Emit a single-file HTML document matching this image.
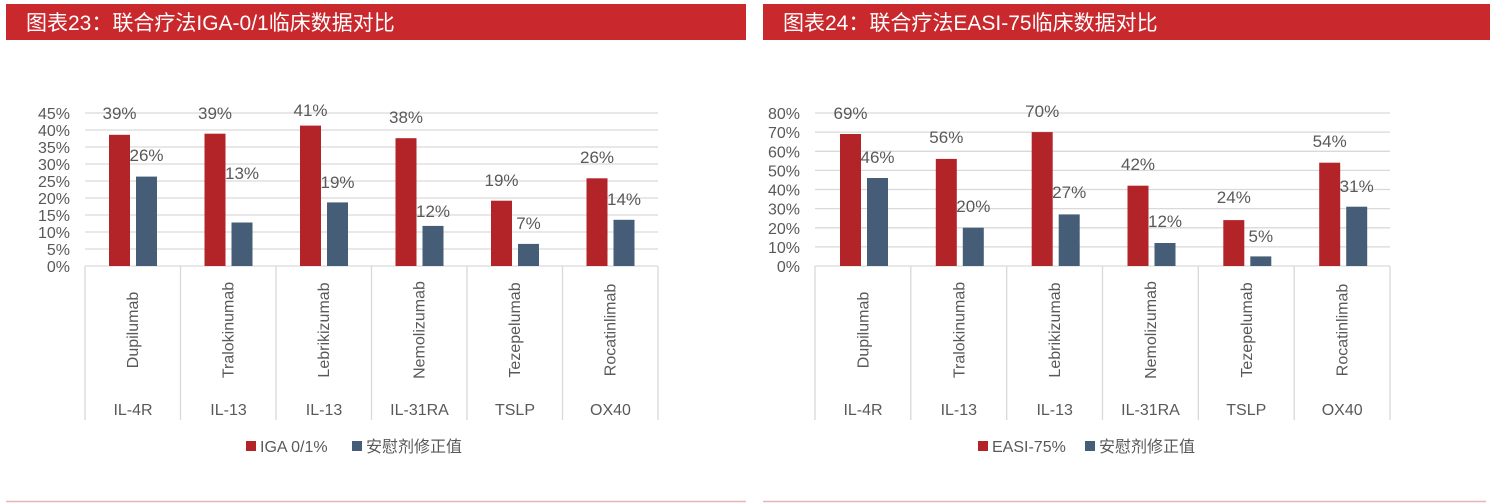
<!DOCTYPE html>
<html><head><meta charset="utf-8"><style>
html,body{margin:0;padding:0;background:#fff;width:1496px;height:504px;overflow:hidden}
svg{display:block}
text{font-family:"Liberation Sans","Noto Sans CJK SC",sans-serif;fill:#595959}
</style></head><body>
<svg width="1496" height="504" viewBox="0 0 1496 504" xmlns="http://www.w3.org/2000/svg">
<rect x="6" y="4" width="740" height="36" fill="#c9282d"/>
<rect x="763" y="4" width="727" height="36" fill="#c9282d"/>
<text x="26" y="30" font-size="21" style="fill:#fff">图表23：联合疗法IGA-0/1临床数据对比</text>
<text x="783" y="30" font-size="21" style="fill:#fff">图表24：联合疗法EASI-75临床数据对比</text>
<line x1="6" y1="501.5" x2="746" y2="501.5" stroke="#e8b4b6" stroke-width="1.5"/>
<line x1="763" y1="501.5" x2="1486" y2="501.5" stroke="#e8b4b6" stroke-width="1.5"/>

<!-- LEFT -->
<g stroke="#d9d9d9" stroke-width="1.3">
<line x1="85" y1="113" x2="658" y2="113"/><line x1="85" y1="130" x2="658" y2="130"/><line x1="85" y1="147" x2="658" y2="147"/><line x1="85" y1="164" x2="658" y2="164"/><line x1="85" y1="181" x2="658" y2="181"/><line x1="85" y1="198" x2="658" y2="198"/><line x1="85" y1="215" x2="658" y2="215"/><line x1="85" y1="232" x2="658" y2="232"/><line x1="85" y1="249" x2="658" y2="249"/><line x1="85" y1="266" x2="658" y2="266"/>
<line x1="85" y1="266" x2="85" y2="420"/><line x1="180.5" y1="266" x2="180.5" y2="420"/><line x1="276" y1="266" x2="276" y2="420"/><line x1="371.5" y1="266" x2="371.5" y2="420"/><line x1="467" y1="266" x2="467" y2="420"/><line x1="562.5" y1="266" x2="562.5" y2="420"/><line x1="658" y1="266" x2="658" y2="420"/>
</g>
<g font-size="16" text-anchor="end">
<text x="70" y="119">45%</text><text x="70" y="136">40%</text><text x="70" y="153">35%</text><text x="70" y="170">30%</text><text x="70" y="187">25%</text><text x="70" y="204">20%</text><text x="70" y="221">15%</text><text x="70" y="238">10%</text><text x="70" y="255">5%</text><text x="70" y="272">0%</text>
</g>
<g fill="#b22428">
<rect x="109" y="134.8" width="21" height="131.2"/><rect x="204.5" y="133.7" width="21" height="132.3"/><rect x="300" y="125.6" width="21" height="140.4"/><rect x="395.5" y="138.2" width="21" height="127.8"/><rect x="491" y="200.7" width="21" height="65.3"/><rect x="586.5" y="178.3" width="21" height="87.7"/>
</g>
<g fill="#465d78">
<rect x="136" y="176.6" width="21" height="89.4"/><rect x="231.5" y="222.5" width="21" height="43.5"/><rect x="327" y="202.4" width="21" height="63.6"/><rect x="422.5" y="225.9" width="21" height="40.1"/><rect x="518" y="243.9" width="21" height="22.1"/><rect x="613.5" y="219.8" width="21" height="46.2"/>
</g>
<g font-size="17" text-anchor="middle">
<text x="119.5" y="119">39%</text><text x="146.5" y="161">26%</text>
<text x="215" y="119">39%</text><text x="242" y="179">13%</text>
<text x="310.5" y="116">41%</text><text x="337.5" y="188">19%</text>
<text x="406" y="123">38%</text><text x="433" y="217">12%</text>
<text x="501.5" y="186">19%</text><text x="528.5" y="229">7%</text>
<text x="597" y="163">26%</text><text x="624" y="205">14%</text>
</g>
<g font-size="16" text-anchor="middle">
<text transform="translate(138,330) rotate(-90)">Dupilumab</text>
<text transform="translate(233.5,330) rotate(-90)">Tralokinumab</text>
<text transform="translate(329,330) rotate(-90)">Lebrikizumab</text>
<text transform="translate(424.5,330) rotate(-90)">Nemolizumab</text>
<text transform="translate(520,330) rotate(-90)">Tezepelumab</text>
<text transform="translate(615.5,330) rotate(-90)">Rocatinlimab</text>
<text x="133" y="415">IL-4R</text><text x="228.5" y="415">IL-13</text><text x="324" y="415">IL-13</text><text x="419.5" y="415">IL-31RA</text><text x="515" y="415">TSLP</text><text x="610.5" y="415">OX40</text>
</g>
<rect x="246" y="441" width="10" height="10" fill="#b22428"/>
<text x="260" y="452" font-size="16">IGA 0/1%</text>
<rect x="352" y="441" width="10" height="10" fill="#465d78"/>
<text x="366" y="452" font-size="16">安慰剂修正值</text>

<!-- RIGHT -->
<g stroke="#d9d9d9" stroke-width="1.3">
<line x1="815" y1="113" x2="1390" y2="113"/><line x1="815" y1="132.1" x2="1390" y2="132.1"/><line x1="815" y1="151.3" x2="1390" y2="151.3"/><line x1="815" y1="170.4" x2="1390" y2="170.4"/><line x1="815" y1="189.5" x2="1390" y2="189.5"/><line x1="815" y1="208.6" x2="1390" y2="208.6"/><line x1="815" y1="227.8" x2="1390" y2="227.8"/><line x1="815" y1="246.9" x2="1390" y2="246.9"/><line x1="815" y1="266" x2="1390" y2="266"/>
<line x1="815" y1="266" x2="815" y2="420"/><line x1="910.8" y1="266" x2="910.8" y2="420"/><line x1="1006.7" y1="266" x2="1006.7" y2="420"/><line x1="1102.5" y1="266" x2="1102.5" y2="420"/><line x1="1198.3" y1="266" x2="1198.3" y2="420"/><line x1="1294.2" y1="266" x2="1294.2" y2="420"/><line x1="1390" y1="266" x2="1390" y2="420"/>
</g>
<g font-size="16" text-anchor="end">
<text x="800" y="119">80%</text><text x="800" y="138.1">70%</text><text x="800" y="157.3">60%</text><text x="800" y="176.4">50%</text><text x="800" y="195.5">40%</text><text x="800" y="214.6">30%</text><text x="800" y="233.8">20%</text><text x="800" y="252.9">10%</text><text x="800" y="272">0%</text>
</g>
<g fill="#b22428">
<rect x="840" y="134" width="21" height="132"/><rect x="935.8" y="158.9" width="21" height="107.1"/><rect x="1031.7" y="132.1" width="21" height="133.9"/><rect x="1127.5" y="185.7" width="21" height="80.3"/><rect x="1223.3" y="220.1" width="21" height="45.9"/><rect x="1319.2" y="162.7" width="21" height="103.3"/>
</g>
<g fill="#465d78">
<rect x="867" y="178" width="21" height="88"/><rect x="962.8" y="227.7" width="21" height="38.3"/><rect x="1058.7" y="214.4" width="21" height="51.6"/><rect x="1154.5" y="243" width="21" height="23"/><rect x="1250.3" y="256.4" width="21" height="9.6"/><rect x="1346.2" y="206.7" width="21" height="59.3"/>
</g>
<g font-size="17" text-anchor="middle">
<text x="850.5" y="119">69%</text><text x="877.5" y="163">46%</text>
<text x="946.3" y="143">56%</text><text x="973.3" y="212">20%</text>
<text x="1042.2" y="117">70%</text><text x="1069.2" y="198">27%</text>
<text x="1138" y="170">42%</text><text x="1165" y="227">12%</text>
<text x="1233.8" y="203">24%</text><text x="1260.8" y="242">5%</text>
<text x="1329.7" y="147">54%</text><text x="1356.7" y="192">31%</text>
</g>
<g font-size="16" text-anchor="middle">
<text transform="translate(868.5,330) rotate(-90)">Dupilumab</text>
<text transform="translate(964.3,330) rotate(-90)">Tralokinumab</text>
<text transform="translate(1060.2,330) rotate(-90)">Lebrikizumab</text>
<text transform="translate(1156,330) rotate(-90)">Nemolizumab</text>
<text transform="translate(1251.8,330) rotate(-90)">Tezepelumab</text>
<text transform="translate(1347.7,330) rotate(-90)">Rocatinlimab</text>
<text x="863" y="415">IL-4R</text><text x="958.8" y="415">IL-13</text><text x="1054.7" y="415">IL-13</text><text x="1150.5" y="415">IL-31RA</text><text x="1246.3" y="415">TSLP</text><text x="1342.2" y="415">OX40</text>
</g>
<rect x="978" y="441" width="10" height="10" fill="#b22428"/>
<text x="992" y="452" font-size="16">EASI-75%</text>
<rect x="1085" y="441" width="10" height="10" fill="#465d78"/>
<text x="1099" y="452" font-size="16">安慰剂修正值</text>
</svg>
</body></html>
